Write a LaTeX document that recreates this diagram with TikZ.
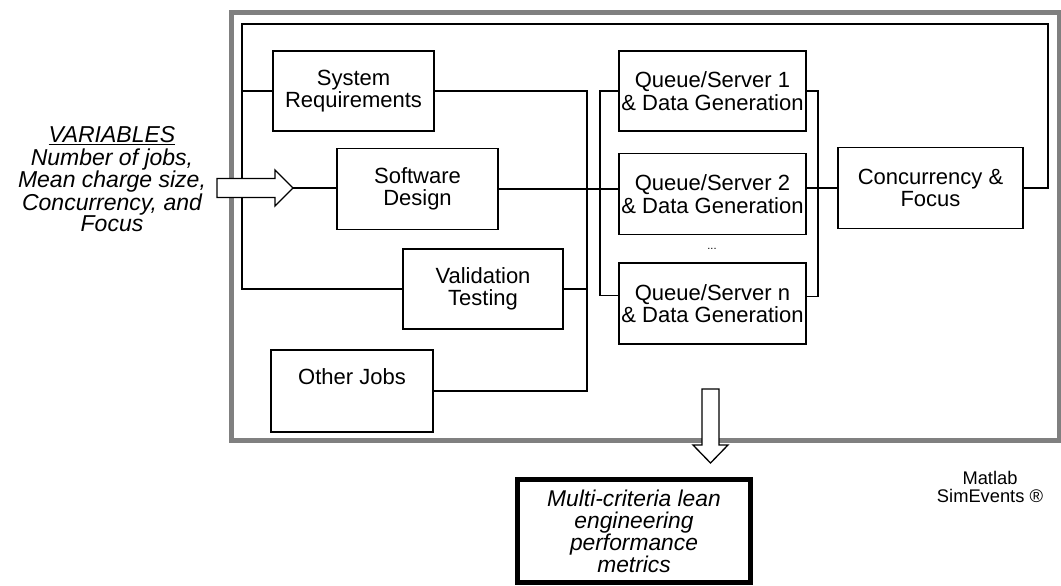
\documentclass[tikz,border=0pt]{standalone}
\usepackage{fontspec}
\setmainfont{Liberation Sans}
\begin{document}
\begin{tikzpicture}[x=1pt,y=-1pt,
  box/.style={draw, line width=1.5pt, inner sep=0pt, align=center, font=\fontsize{22}{22.5}\selectfont},
  wire/.style={line width=1.4pt},
  fatarrow/.style={draw, line width=1.3pt, fill=white, line join=miter},
  frameband/.style={draw=black!50, line width=5pt}]
\useasboundingbox (0,0) rectangle (1061,586);
% outer gray frame
\draw[frameband] (231.5,13) rectangle (1059,440.5);
% boxes
\node[box, minimum width=161pt, minimum height=80pt] (sysreq) at (353.5,91) {System\\Requirements};
\node[box, minimum width=161pt, minimum height=81pt] (swd) at (417.5,189) {Software\\Design};
\node[box, minimum width=160pt, minimum height=80pt] (val) at (483,289) {Validation\\Testing};
\node[box, minimum width=162pt, minimum height=82pt] (other) at (352,391) {Other Jobs\\\strut};
\node[box, minimum width=187pt, minimum height=80pt] (q1) at (712.5,91) {Queue/Server 1\\\& Data Generation};
\node[box, minimum width=187pt, minimum height=81pt] (q2) at (712.5,194) {Queue/Server 2\\\& Data Generation};
\node[box, minimum width=187pt, minimum height=81pt] (qn) at (712.5,303.5) {Queue/Server n\\\& Data Generation};
\node[font=\fontsize{11}{11}\selectfont, inner sep=0pt] (dots) at (712,249) {...};
\node[box, minimum width=185pt, minimum height=81pt] (conc) at (930.5,188) {Concurrency \&\\Focus};
% bus coordinates
\coordinate (lx) at (242,24);
\coordinate (rx) at (1048,24);
\coordinate (b1) at (587,0);
\coordinate (b2) at (600,0);
\coordinate (b3) at (818,0);
\coordinate (qnw) at ([yshift=8pt]qn.west);
\coordinate (qne) at ([yshift=7pt]qn.east);
% feedback loop
\draw[wire] (conc.east) -- (conc.east -| rx) -- (rx) -- (lx) -- (lx |- val.west) -- (val.west);
\draw[wire] (lx |- sysreq.west) -- (sysreq.west);
% bus 1
\draw[wire] (sysreq.east) -- (sysreq.east -| b1) -- (b1 |- other.east) -- (other.east);
\draw[wire] (val.east) -- (val.east -| b1);
% bus 2
\draw[wire] (q1.west) -- (q1.west -| b2) -- (b2 |- qnw) -- (qnw);
\draw[wire] (swd.east) -- (swd.east -| q2.west);
% bus 3
\draw[wire] (q1.east) -- (q1.east -| b3) -- (b3 |- qne) -- (qne);
\draw[wire] (conc.west -| q2.east) -- (conc.west);
% input arrow
\coordinate (tipL) at (293,188);
\draw[fatarrow] (217,178.5) -- (275,178.5) -- (275,170) -- (tipL) -- (275,206) -- (275,197.5) -- (217,197.5) -- cycle;
\draw[wire] (tipL) -- (tipL -| swd.west);
% output arrow
\coordinate (tipD) at (710.5,463);
\draw[fatarrow] (702,389) -- (719,389) -- (719,445) -- (728,445) -- (tipD) -- (693,445) -- (702,445) -- cycle;
% metrics box
\node[draw, line width=5pt, minimum width=233pt, minimum height=103pt, inner sep=0pt, align=center,
  font=\itshape\fontsize{22.8}{22}\selectfont] (met) at (634,531)
  {Multi-criteria lean\\engineering\\performance\\metrics};
% variables text
\node[align=center, inner sep=0pt, font=\itshape\fontsize{23}{19}\selectfont] (vars) at (112,179)
  {\underline{VARIABLES}\\[4pt]Number of jobs,\\Mean charge size,\\Concurrency, and\\Focus};
% matlab label
\node[align=center, inner sep=0pt, font=\fontsize{18.3}{18}\selectfont] (matlab) at (990,487)
  {Matlab\\SimEvents ®};
\end{tikzpicture}
\end{document}
